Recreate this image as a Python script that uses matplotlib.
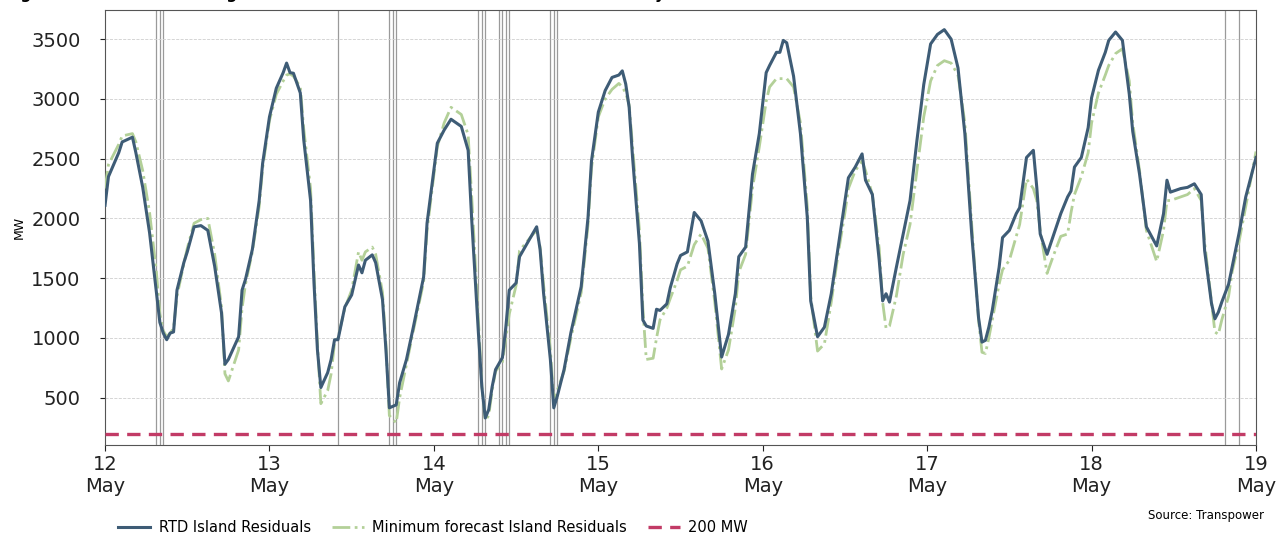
import numpy as np
import pandas as pd
import matplotlib
matplotlib.use("Agg")
import matplotlib.pyplot as plt
import matplotlib.dates as mdates

# hours after 12 May 00:00, RTD island residuals and minimum forecast residuals (MW)
hours = [0.0, 0.5, 2.0, 2.5, 4.0, 4.5, 5.5, 6.5, 7.5, 8.0, 8.5, 9.0, 9.5, 10.0, 10.5,
         11.5, 12.0, 13.0, 14.0, 15.0, 16.0, 17.0, 17.5, 18.0, 19.5, 20.0, 20.5, 21.5,
         22.5, 23.0, 24.0, 25.0, 26.0, 26.5, 27.0, 27.5, 28.5, 29.0, 30.0, 30.5, 31.0,
         31.5, 32.5, 33.0, 33.5, 34.0, 35.0, 36.0, 37.0, 37.5, 38.0, 39.0, 39.5, 40.5,
         41.0, 41.5, 42.5, 43.0, 44.0, 45.0, 46.5, 47.0, 48.5, 49.5, 50.5, 52.0, 53.0,
         53.5, 54.5, 55.0, 55.5, 56.0, 56.5, 57.0, 58.0, 58.5, 59.0, 60.0, 60.5, 61.5,
         62.5, 63.0, 63.5, 64.0, 65.0, 65.5, 66.0, 67.0, 68.0, 69.5, 70.5, 71.0, 72.0,
         73.0, 74.0, 75.0, 75.5, 76.0, 76.5, 77.0, 78.0, 78.5, 79.0, 80.0, 80.5, 81.0,
         82.0, 82.5, 83.5, 84.0, 85.0, 86.0, 87.0, 88.0, 89.0, 90.0, 91.0, 92.0, 92.5,
         93.5, 94.5, 95.5, 96.5, 97.0, 98.0, 98.5, 99.0, 99.5, 100.5, 101.5, 102.5,
         103.0, 104.0, 105.0, 106.0, 107.0, 108.0, 108.5, 109.5, 110.5, 111.0, 112.0,
         113.0, 113.5, 114.0, 114.5, 115.5, 116.5, 117.5, 118.5, 119.5, 120.5, 121.5,
         122.5, 123.5, 124.5, 125.5, 126.5, 127.5, 128.0, 128.5, 129.0, 129.5, 130.5,
         131.0, 132.0, 133.0, 133.5, 134.5, 135.5, 136.0, 136.5, 137.5, 138.5, 139.5,
         140.5, 141.0, 141.5, 142.5, 143.5, 144.0, 145.0, 146.0, 146.5, 147.5, 148.5,
         149.5, 150.0, 151.0, 152.0, 153.5, 154.5, 155.0, 155.5, 157.0, 158.0, 159.0,
         160.0, 160.5, 161.5, 162.0, 162.5, 163.0, 164.0, 164.5, 165.5, 166.5, 168.0]

rtd = [2110, 2350, 2550, 2640, 2680, 2550, 2260, 1880, 1380, 1130, 1040, 985, 1040, 1050, 1400,
       1630, 1720, 1930, 1940, 1900, 1600, 1210, 780, 820, 1010, 1400, 1490, 1740,
       2150, 2460, 2850, 3090, 3220, 3300, 3220, 3215, 3050, 2660, 2150, 1460, 900,
       585, 710, 820, 985, 985, 1260, 1360, 1610, 1545, 1650, 1695, 1630, 1320,
       900, 415, 440, 625, 820, 1090, 1510, 1960, 2630, 2740, 2830, 2770, 2570,
       2010, 1040, 590, 330, 400, 590, 735, 835, 1090, 1400, 1460, 1680, 1780,
       1880, 1930, 1740, 1380, 820, 415, 510, 735, 1045, 1430, 2010, 2480, 2890,
       3070, 3180, 3200, 3235, 3125, 2930, 2510, 1790, 1150, 1100, 1080, 1240, 1230,
       1285, 1420, 1620, 1690, 1720, 2050, 1980, 1810, 1370, 840, 1030, 1370, 1680,
       1760, 2370, 2710, 3220, 3280, 3390, 3390, 3490, 3470, 3190, 2710, 2010,
       1310, 1010, 1090, 1370, 1760, 2150, 2340, 2430, 2540, 2320, 2200,
       1650, 1310, 1370, 1300, 1590, 1870, 2150, 2650, 3120, 3460, 3540,
       3580, 3500, 3260, 2710, 1870, 1170, 965, 980, 1090, 1230, 1590,
       1840, 1900, 2040, 2090, 2510, 2570, 2260, 1870, 1700, 1870, 2040,
       2180, 2230, 2430, 2510, 2760, 3010, 3240, 3390, 3490, 3560, 3490,
       3040, 2730, 2370, 1930, 1770, 2040, 2320, 2220, 2250, 2260, 2290,
       2200, 1730, 1290, 1160, 1215, 1300, 1450, 1590, 1870, 2180, 2510]

min_forecast = [2250, 2450, 2620, 2690, 2710, 2640, 2400, 2050, 1550, 1200, 1060, 1010, 1040, 1080, 1350,
                1620, 1750, 1960, 1990, 2000, 1700, 1260, 700, 640, 900, 1250, 1450, 1720,
                2100, 2420, 2820, 3040, 3150, 3200, 3210, 3190, 3100, 2750, 2250, 1550, 950,
                450, 560, 700, 960, 1000, 1250, 1400, 1720, 1650, 1720, 1760, 1700, 1380,
                950, 350, 290, 500, 780, 1060, 1470, 1900, 2600, 2800, 2930, 2870, 2700,
                2200, 1150, 600, 310, 350, 560, 720, 800, 1000, 1200, 1440, 1730, 1800,
                1870, 1900, 1760, 1450, 900, 470, 560, 720, 1000, 1380, 1950, 2420, 2850,
                3000, 3080, 3130, 3100, 3050, 2950, 2600, 1900, 1250, 820, 830, 1000, 1150,
                1250, 1330, 1480, 1570, 1600, 1780, 1870, 1750, 1300, 740, 900, 1250, 1550,
                1700, 2250, 2600, 2980, 3100, 3170, 3170, 3170, 3170, 3100, 2800, 2100,
                1350, 890, 950, 1300, 1700, 2050, 2250, 2400, 2480, 2400, 2200,
                1750, 1300, 1080, 1100, 1350, 1700, 1950, 2400, 2850, 3150, 3280,
                3320, 3300, 3200, 2800, 1950, 1150, 880, 870, 1000, 1150, 1450,
                1570, 1650, 1850, 1950, 2330, 2250, 2150, 1900, 1540, 1700, 1850,
                1870, 2050, 2200, 2350, 2550, 2800, 3050, 3200, 3280, 3380, 3420,
                3150, 2800, 2400, 1900, 1640, 1900, 2150, 2150, 2180, 2200, 2250,
                2150, 1800, 1300, 1050, 1030, 1150, 1350, 1550, 1800, 2100, 2560]

# trading periods marked with vertical lines
marked_periods = ["2024-05-12 07:30", "2024-05-12 08:00", "2024-05-12 08:30",
                  "2024-05-13 10:00",
                  "2024-05-13 17:30", "2024-05-13 18:00", "2024-05-13 18:30",
                  "2024-05-14 06:30", "2024-05-14 07:00", "2024-05-14 07:30",
                  "2024-05-14 09:30", "2024-05-14 10:00", "2024-05-14 10:30", "2024-05-14 11:00",
                  "2024-05-14 17:00", "2024-05-14 17:30", "2024-05-14 18:00",
                  "2024-05-18 19:30", "2024-05-18 21:30"]

threshold = 200

start = pd.Timestamp("2024-05-12")
times = start + pd.to_timedelta(hours, unit="h")

fig = plt.figure(figsize=(12.81, 5.36), dpi=100)
ax = fig.add_axes([0.082, 0.170, 0.8985, 0.8115])

for t in pd.to_datetime(marked_periods):
    ax.axvline(t, color="#9a9a9a", lw=0.9, zorder=1)

ax.plot(times, min_forecast, color="#b3d098", lw=2.0, ls="-.",
        label="Minimum forecast Island Residuals", zorder=3)
ax.plot(times, rtd, color="#3e5c76", lw=2.2,
        label="RTD Island Residuals", zorder=4)
ax.axhline(threshold, color="#c23b66", lw=2.4, ls=(0, (4, 2.5)),
           label="200 MW", zorder=5)

ax.set_xlim(start, start + pd.Timedelta(days=7))
ax.set_ylim(105, 3745)
ax.set_yticks([500, 1000, 1500, 2000, 2500, 3000, 3500])
ax.xaxis.set_major_locator(mdates.DayLocator())
ax.xaxis.set_major_formatter(mdates.DateFormatter("%d\n%b"))
ax.tick_params(labelsize=14, colors="#222222")
ax.tick_params(axis="y", pad=14)
ax.tick_params(axis="x", length=4, pad=3)
ax.grid(axis="y", color="#cfcfcf", ls="--", lw=0.6)
ax.set_ylabel("MW", fontsize=9, labelpad=4)
for s in ax.spines.values():
    s.set_color("#555555")

h, l = ax.get_legend_handles_labels()
order = [1, 0, 2]
fig.legend([h[i] for i in order], [l[i] for i in order], loc="center left",
           bbox_to_anchor=(0.082, 0.015), ncol=3, frameon=False, fontsize=10.5,
           handlelength=2.2, handletextpad=0.6, columnspacing=1.4)

fig.text(0.987, 0.038, "Source: Transpower", ha="right", va="center", fontsize=8.5)

fig.text(0.004, 1.0 + 1.0 / 536, "Figure 2: RTD residuals higher than minimum forecast residuals on most days",
         ha="left", va="baseline", fontsize=11, fontweight="bold")

fig.savefig("out.png", dpi=100)
